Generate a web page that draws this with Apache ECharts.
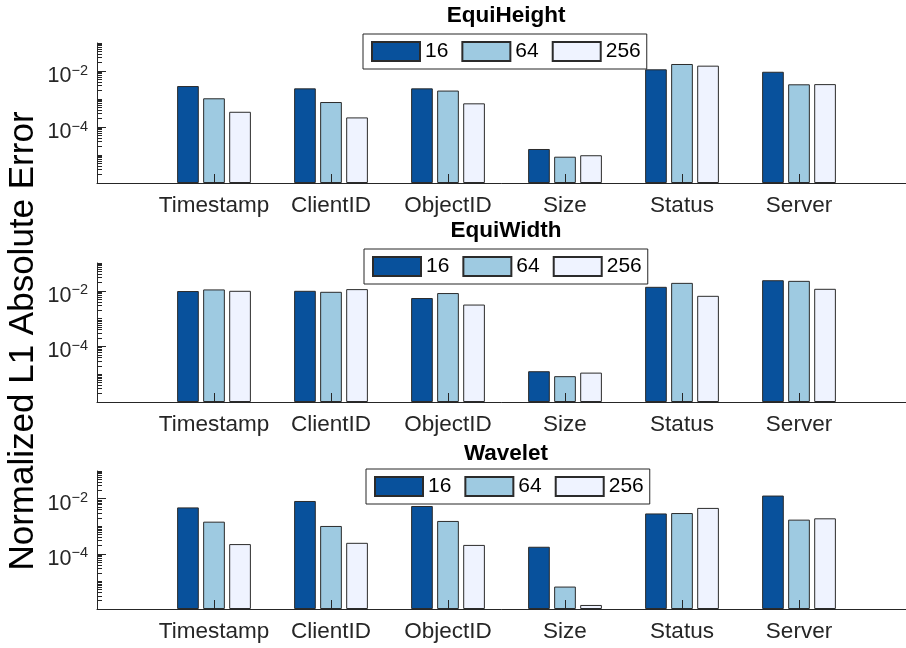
<!DOCTYPE html>
<html>
<head>
<meta charset="utf-8">
<script src="https://cdn.jsdelivr.net/npm/echarts@6/dist/echarts.min.js"></script>
<style>
  html, body { margin: 0; padding: 0; background: #fff; }
  #chart { width: 906px; height: 648px; }
</style>
</head>
<body>
<div id="chart"></div>
<script>
var categories = ['Timestamp', 'ClientID', 'ObjectID', 'Size', 'Status', 'Server'];
var binSizes = ['16', '64', '256'];
var panelTitles = ['EquiHeight', 'EquiWidth', 'Wavelet'];
var majorTicks = [1e-4, 1e-2];

// values per bin size (16, 64, 256), one array each
var equiHeight16 = [2.9e-3, 2.4e-3, 2.4e-3, 1.64e-5, 1.15e-2, 9.4e-3];
var equiHeight64 = [1.06e-3, 7.8e-4, 2.0e-3, 8.7e-6, 1.78e-2, 3.35e-3];
var equiHeight256 = [3.5e-4, 2.2e-4, 7.0e-4, 9.8e-6, 1.55e-2, 3.4e-3];

var equiWidth16 = [9.8e-3, 1.0e-2, 5.5e-3, 1.28e-5, 1.39e-2, 2.4e-2];
var equiWidth64 = [1.12e-2, 9.2e-3, 8.3e-3, 8.5e-6, 1.93e-2, 2.28e-2];
var equiWidth256 = [1.0e-2, 1.15e-2, 3.2e-3, 1.14e-5, 6.6e-3, 1.18e-2];

var wavelet16 = [4.8e-3, 8.2e-3, 5.4e-3, 1.8e-4, 2.9e-3, 1.29e-2];
var wavelet64 = [1.46e-3, 1.02e-3, 1.55e-3, 6.5e-6, 3.0e-3, 1.73e-3];
var wavelet256 = [2.25e-4, 2.5e-4, 2.1e-4, 1.4e-6, 4.6e-3, 1.93e-3];

var panels = [
  [equiHeight16, equiHeight64, equiHeight256],
  [equiWidth16, equiWidth64, equiWidth256],
  [wavelet16, wavelet64, wavelet256]
];

var colors = ['#08519c', '#9ecae1', '#eff3ff'];
var font = 'Liberation Sans, Arial, Helvetica, sans-serif';
var axisColor = '#262626';

var gridTops = [43, 263, 471];
var gridHeights = [140, 139, 138];
var legendLefts = [363, 364, 366];
var legendTops = [34, 249, 469];
var titleTops = [4.5, 219.5, 442.5];

var minorTicks = [];
for (var e = -6; e < -1; e++) {
  for (var m = 1; m <= 9; m++) minorTicks.push(m * Math.pow(10, e));
}
minorTicks.push(1e-1);

var xCats = [''].concat(categories, ['']);

var chart = echarts.init(document.getElementById('chart'));
var option = {
  backgroundColor: '#fff',
  animation: false,
  textStyle: { fontFamily: font },
  title: [],
  legend: [],
  grid: [],
  xAxis: [],
  yAxis: [],
  series: [],
  graphic: [{
    type: 'text',
    x: 23,
    y: 341,
    rotation: Math.PI / 2,
    style: {
      text: 'Normalized L1 Absolute Error',
      font: '35px ' + font,
      fill: '#000',
      align: 'center',
      verticalAlign: 'middle'
    }
  }]
};

panels.forEach(function (panel, k) {
  option.title.push({
    text: panelTitles[k],
    left: 506,
    top: titleTops[k],
    textAlign: 'center',
    padding: 0,
    textStyle: { fontSize: 22.5, fontWeight: 'bold', color: '#000', fontFamily: font }
  });
  option.legend.push({
    data: binSizes,
    left: legendLefts[k],
    top: legendTops[k],
    orient: 'horizontal',
    icon: 'rect',
    itemWidth: 48,
    itemHeight: 19,
    itemGap: 13,
    padding: [7, 6, 7, 8],
    borderColor: axisColor,
    borderWidth: 1,
    backgroundColor: '#fff',
    selectedMode: false,
    textStyle: { fontSize: 21, color: '#000', lineHeight: 19, fontFamily: font }
  });
  option.grid.push({
    left: 97,
    top: gridTops[k],
    width: 819,
    height: gridHeights[k],
    outerBoundsMode: 'none',
    containLabel: false
  });
  option.xAxis.push({
    type: 'category',
    gridIndex: k,
    data: xCats,
    boundaryGap: false,
    z: 5,
    axisLine: { lineStyle: { color: axisColor, width: 1 } },
    axisTick: {
      inside: true,
      length: 9,
      interval: function (i) { return i > 0 && i < xCats.length - 1; },
      lineStyle: { color: axisColor }
    },
    axisLabel: { interval: 0, fontSize: 22.5, color: axisColor, margin: 11, fontFamily: font },
    splitLine: { show: false }
  });
  // major axis with labels
  option.yAxis.push({
    type: 'log',
    gridIndex: k,
    position: 'left',
    logBase: 10,
    min: 1e-6,
    max: 1e-1,
    startValue: 1e-6,
    axisLine: { show: true, lineStyle: { color: axisColor } },
    axisTick: { show: true, inside: true, length: 9, customValues: majorTicks, lineStyle: { color: axisColor } },
    axisLabel: {
      customValues: majorTicks,
      margin: 9,
      color: axisColor,
      padding: [8, 0, 0, 0],
      formatter: function (v) {
        return '{b|10}{s|\u2212' + Math.abs(Math.round(Math.log10(v))) + '}';
      },
      rich: {
        b: { fontSize: 21.5, lineHeight: 24, verticalAlign: 'bottom', color: axisColor, fontFamily: font },
        s: { fontSize: 14.5, lineHeight: 14, verticalAlign: 'top', color: axisColor, fontFamily: font }
      }
    },
    splitLine: { show: false }
  });
  // minor ticks
  option.yAxis.push({
    type: 'log',
    gridIndex: k,
    position: 'left',
    offset: 0,
    logBase: 10,
    min: 1e-6,
    max: 1e-1,
    axisLine: { show: false },
    axisTick: { show: true, inside: true, length: 5, customValues: minorTicks, lineStyle: { color: axisColor } },
    axisLabel: { show: false },
    splitLine: { show: false }
  });
  panel.forEach(function (values, j) {
    option.series.push({
      name: binSizes[j],
      type: 'bar',
      xAxisIndex: k,
      yAxisIndex: 2 * k,
      barWidth: 21.7,
      barGap: '20%',
      itemStyle: { color: colors[j], borderColor: '#2b2b2b', borderWidth: 1 },
      data: ['-'].concat(values, ['-'])
    });
  });
});

chart.setOption(option);
</script>
</body>
</html>
